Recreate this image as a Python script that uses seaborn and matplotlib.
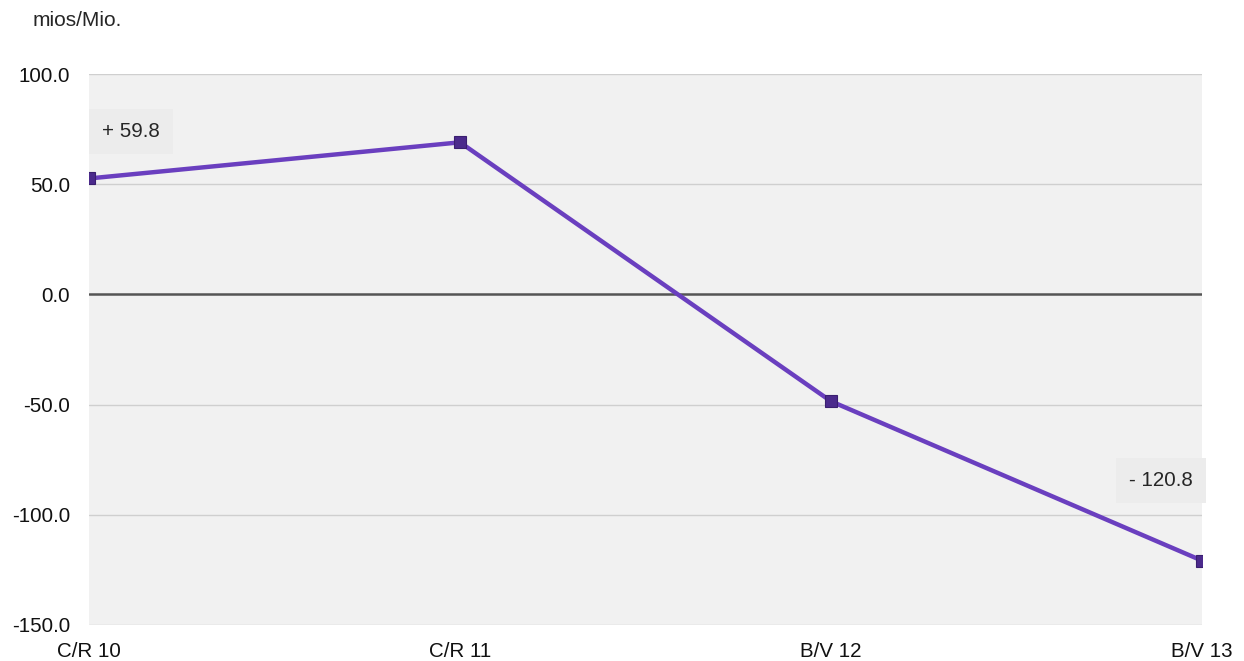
import numpy as np
import matplotlib
matplotlib.use("Agg")
import matplotlib.pyplot as plt
import seaborn as sns
import pandas as pd

# 数据
periods = ["C/R 10", "C/R 11", "B/V 12", "B/V 13"]
values = [52.6, 69.0, -48.5, -120.8]
yticks = [-150.0, -100.0, -50.0, 0.0, 50.0, 100.0]
label_start = "+ 59.8"
label_end = "- 120.8"
unit_text = "mios/Mio."

df = pd.DataFrame({"period": periods, "value": values})

sns.set_style("white")
plt.rcParams["font.family"] = ["Liberation Sans", "DejaVu Sans"]
plt.rcParams["axes.unicode_minus"] = False

fig = plt.figure(figsize=(12.44, 6.61), dpi=100)
ax = fig.add_axes([89 / 1244, 1 - 625 / 661, (1202 - 89) / 1244, (625 - 74) / 661])
ax.set_facecolor("#f1f1f1")

# 网格线
for t in yticks:
    if t == 0:
        ax.axhline(t, color="#555555", lw=1.8, zorder=1)
    else:
        ax.axhline(t, color="#cfcfcf", lw=1.0, zorder=1)

sns.lineplot(data=df, x="period", y="value", sort=False, ax=ax,
             color="#6a3fbf", lw=3.2, marker="s", markersize=8,
             markerfacecolor="#4b2a8c", markeredgecolor="#3a1f70",
             markeredgewidth=0.8, zorder=3)

ax.set_xlim(0, 3)
ax.set_ylim(-150, 100)
ax.set_yticks(yticks)
ax.set_yticklabels([f"{t:.1f}" for t in yticks])
ax.set_xlabel("")
ax.set_ylabel("")
ax.tick_params(axis="both", length=0, labelsize=14.8, colors="#111111")
ax.tick_params(axis="y", pad=13.5)
ax.tick_params(axis="x", pad=12)
for s in ax.spines.values():
    s.set_visible(False)

# 数值标签
box = dict(boxstyle="square,pad=0.62", fc="#ececec", ec="none")
ax.annotate(label_start, xy=(0, 74), xytext=(9.5, 0), textcoords="offset points",
            ha="left", va="center", fontsize=14.8, bbox=box, zorder=4)
ax.annotate(label_end, xy=(3, -84.4), xytext=(-29.5, 0), textcoords="offset points",
            ha="center", va="center", fontsize=14.8, bbox=box, zorder=4,
            annotation_clip=False)

fig.text(33 / 1244, 1 - 20 / 661, unit_text, ha="left", va="center", fontsize=15)

fig.savefig("out.png", dpi=100)
